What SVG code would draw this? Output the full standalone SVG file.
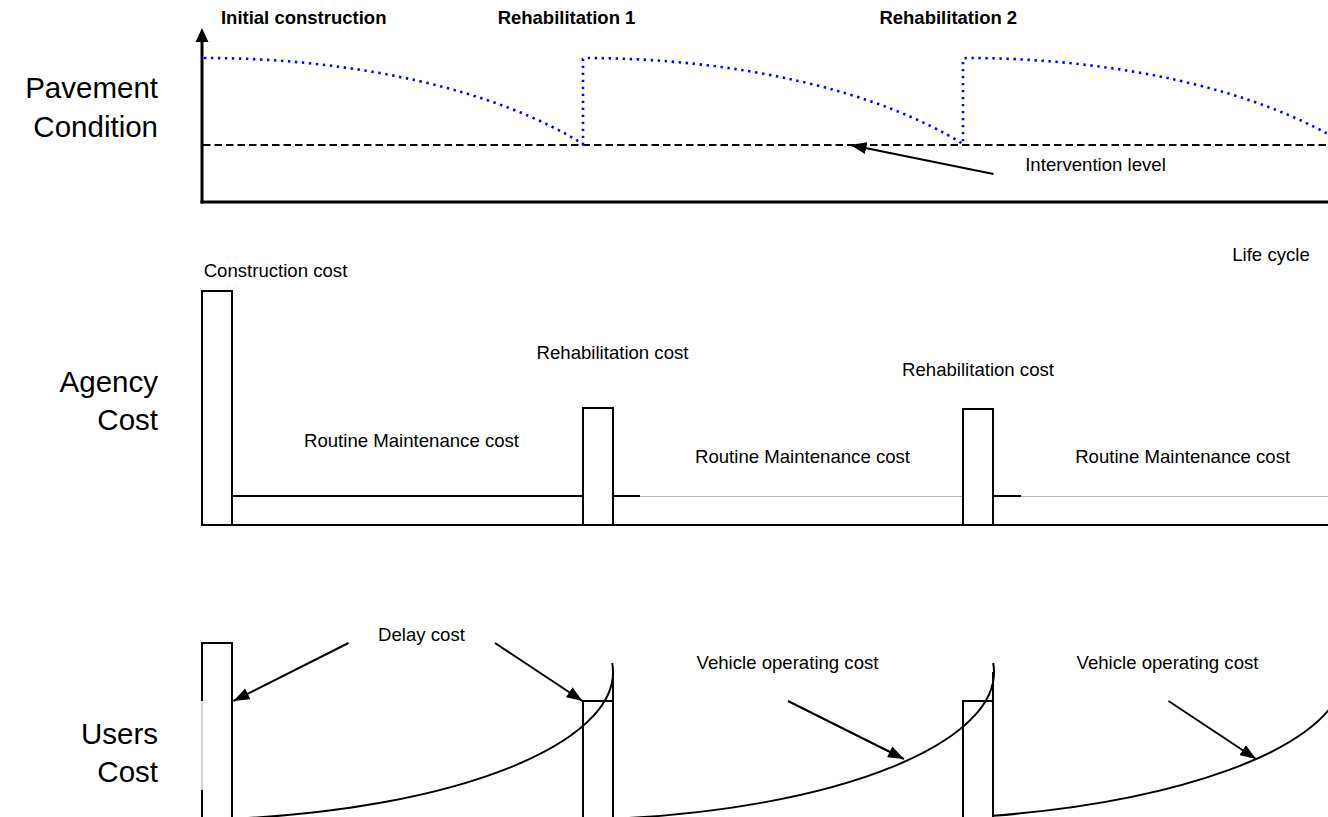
<svg xmlns="http://www.w3.org/2000/svg" width="1328" height="817" viewBox="0 0 1328 817">
<defs>
<marker id="ah" markerUnits="userSpaceOnUse" markerWidth="17" markerHeight="12" refX="16" refY="6" orient="auto"><path d="M0,0 L16,6 L0,12 z" fill="#000"/></marker>
</defs>
<style>
.lbl{font-family:"Liberation Sans",Arial,sans-serif;font-size:29.5px;fill:#000;text-anchor:end}
.t{font-family:"Liberation Sans",Arial,sans-serif;font-size:18.6px;fill:#000;text-anchor:middle}
.b{font-family:"Liberation Sans",Arial,sans-serif;font-size:18.5px;font-weight:bold;fill:#000;text-anchor:middle}
.ln{stroke:#000;stroke-width:2;fill:none}
.axis{stroke:#000;stroke-width:3;fill:none}
.bar{stroke:#000;stroke-width:2;fill:#fff}
.gr{stroke:#b4b4b4;stroke-width:1.2;fill:none}
.arr{stroke:#000;stroke-width:2;fill:none;marker-end:url(#ah)}
.dot{stroke:#0000ff;stroke-width:2.6;fill:none;stroke-dasharray:2.4 4.6}
.dash{stroke:#000;stroke-width:2;fill:none;stroke-dasharray:7.5 4}
</style>
<rect width="1328" height="817" fill="#fff"/>

<g id="side-labels">
<text class="lbl" x="158" y="98">Pavement</text>
<text class="lbl" x="158" y="137">Condition</text>
<text class="lbl" x="158" y="392">Agency</text>
<text class="lbl" x="158" y="430">Cost</text>
<text class="lbl" x="158" y="744">Users</text>
<text class="lbl" x="158" y="782">Cost</text>
</g>

<g id="pavement-condition">
<path class="axis" d="M202 203.5 V40"/>
<polygon points="202,28 195.5,42 208.5,42" fill="#000"/>
<path class="axis" d="M200.5 202 H1328"/>
<path class="dash" d="M203 145 H1328"/>
<path class="dot" d="M204 58 A461 200 0 0 1 583 144 V59 L586 58 A461 200 0 0 1 963 144 V59 L966 58 A461 200 0 0 1 1345 144"/>
<text class="b" x="303.7" y="24">Initial construction</text>
<text class="b" x="566.5" y="24">Rehabilitation 1</text>
<text class="b" x="948.3" y="24">Rehabilitation 2</text>
<text class="t" x="1095.5" y="171">Intervention level</text>
<text class="t" x="1271" y="261">Life cycle</text>
</g>

<g id="agency-cost">
<path class="gr" d="M640 496.5 H964 M1021 496.5 H1328"/>
<path class="ln" d="M232 496 H583 M613 496 H640 M993 496 H1021"/>
<path class="ln" d="M202 525 H1328"/>
<rect class="bar" x="202" y="291" width="30" height="234"/>
<rect class="bar" x="583" y="408" width="30" height="117"/>
<rect class="bar" x="963" y="409" width="30" height="116"/>
<text class="t" x="275.5" y="277">Construction cost</text>
<text class="t" x="612.5" y="359">Rehabilitation cost</text>
<text class="t" x="978" y="376">Rehabilitation cost</text>
<text class="t" x="411.5" y="447">Routine Maintenance cost</text>
<text class="t" x="802.5" y="463">Routine Maintenance cost</text>
<text class="t" x="1182.7" y="463">Routine Maintenance cost</text>
</g>

<g id="users-cost">
<path class="gr" d="M202 701 V790"/>
<path class="ln" d="M202 701 V643 H232 V818 M202 790 V818"/>
<path class="ln" d="M583 818 V701 H613 M613 672 V818"/>
<path class="ln" d="M963 818 V701 H993 M993 672 V818"/>
<path class="ln" d="M232 818.8 A437 148 0 0 0 612.2 663"/>
<path class="ln" d="M612.5 818.8 A437 148 0 0 0 993.2 663"/>
<path class="ln" d="M993 815.8 A459 148 0 0 0 1340.6 690"/>
<text class="t" x="421.5" y="641">Delay cost</text>
<text class="t" x="787.5" y="669">Vehicle operating cost</text>
<text class="t" x="1167.5" y="669">Vehicle operating cost</text>
</g>

<g id="connectors">
<line class="arr" x1="993.5" y1="174" x2="850.5" y2="145"/>
<line class="arr" x1="348.5" y1="643" x2="233.5" y2="701"/>
<line class="arr" x1="495" y1="643" x2="582.5" y2="701"/>
<line class="arr" x1="788" y1="701" x2="904" y2="759"/>
<line class="arr" x1="1168.5" y1="701" x2="1256" y2="759"/>
</g>
</svg>
